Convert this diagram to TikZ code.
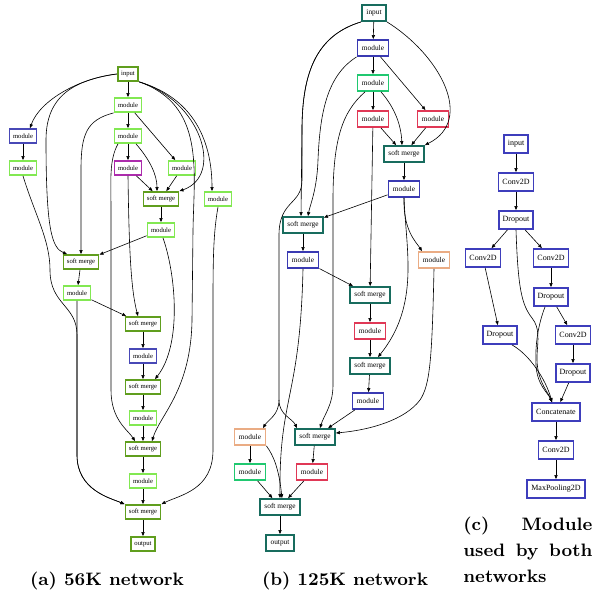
\documentclass[tikz,border=0pt]{standalone}
\usepackage{fontspec}
\usepackage{tikz}
\usetikzlibrary{arrows.meta}
\newfontfamily\gvfont{Liberation Serif}

\definecolor{agreen}{RGB}{96,158,30}
\definecolor{alime}{RGB}{130,232,82}
\definecolor{ablue}{RGB}{72,72,182}
\definecolor{apurple}{RGB}{172,44,172}
\definecolor{bteal}{RGB}{24,108,94}
\definecolor{bblue}{RGB}{58,58,178}
\definecolor{bgreen}{RGB}{32,200,112}
\definecolor{bred}{RGB}{224,56,86}
\definecolor{borange}{RGB}{234,172,132}
\definecolor{cblue}{RGB}{62,62,188}

\tikzset{
	gvbox/.style={fill=white, draw, shape=rectangle, line width=0.9pt, inner ysep=0pt},
	anode/.style={gvbox, font=\gvfont\fontsize{3.33}{4}\selectfont, minimum height=7pt, inner xsep=1.75pt},
	amerge/.style={anode, draw=agreen},
	amod/.style={anode, draw=alime},
	amodblue/.style={anode, draw=ablue},
	amodpurple/.style={anode, draw=apurple},
	bnode/.style={gvbox, font=\gvfont\fontsize{3.67}{4.4}\selectfont, minimum height=8pt, inner xsep=2.25pt},
	bmerge/.style={bnode, draw=bteal},
	bmodblue/.style={bnode, draw=bblue},
	bmodgreen/.style={bnode, draw=bgreen},
	bmodred/.style={bnode, draw=bred},
	bmodorange/.style={bnode, draw=borange},
	clayer/.style={gvbox, draw=cblue, font=\gvfont\fontsize{4}{5}\selectfont, minimum height=9pt, inner xsep=2pt},
	link/.style={fill=none, line width=0.3pt, -{Triangle[length=2pt, width=1.6pt]}},
	caption/.style={font=\fontsize{9}{13}\selectfont\bfseries, inner sep=0pt}
}

\begin{document}
\begin{tikzpicture}[x=0.5pt, y=-0.5pt]
	\useasboundingbox (0, 0) rectangle (594, 594);

	% (a) 56K network
	\node [amerge] (a1) at (128, 74) {input};
	\node [amod] (a2) at (128, 105) {module};
	\node [amodblue] (a3) at (23, 136) {module};
	\node [amod] (a4) at (128, 136) {module};
	\node [amod] (a5) at (23, 168) {module};
	\node [amodpurple] (a6) at (128, 168) {module};
	\node [amod] (a7) at (182, 168) {module};
	\node [amerge] (a8) at (161, 199) {soft merge};
	\node [amod] (a9) at (218, 199) {module};
	\node [amod] (a10) at (161, 230) {module};
	\node [amerge] (a11) at (81, 262) {soft merge};
	\node [amod] (a12) at (77, 293) {module};
	\node [amerge] (a13) at (143, 324) {soft merge};
	\node [amodblue] (a14) at (143, 356) {module};
	\node [amerge] (a15) at (143, 387) {soft merge};
	\node [amod] (a16) at (143, 418) {module};
	\node [amerge] (a17) at (143, 449) {soft merge};
	\node [amod] (a18) at (143, 481) {module};
	\node [amerge] (a19) at (143, 512) {soft merge};
	\node [amerge] (a20) at (143, 544) {output};

	\draw [link] (a1) to (a2);
	\draw [link] (a1.west) .. controls (80, 78) and (40, 100) .. ([xshift=3.5pt]a3.north);
	\draw [link] (a1.west) .. controls (75, 80) and (46, 95) .. (46, 140) .. controls (46, 230) and (52, 248) .. ([xshift=-7pt]a11.north);
	\draw [link] (a1.south east) .. controls (200, 100) and (225, 175) .. (a8.north east);
	\draw [link] (a1.south east) .. controls (200, 100) and (212, 150) .. ([xshift=-3pt]a9.north);
	\draw [link] (a1.south east) .. controls (205, 105) and (194, 170) .. (193, 230) -- (192, 320) .. controls (191, 390) and (160, 415) .. ([xshift=4.5pt]a17.north);
	\draw [link] (a2) to (a4);
	\draw [link] (a2) to (a7);
	\draw [link] (a2.south west) .. controls (86, 120) and (81, 135) .. (81, 170) -- (a11.north);
	\draw [link] (a3) to (a5);
	\draw [link] (a4) to (a6);
	\draw [link] ([xshift=4pt]a4.south) .. controls (150, 160) and (157, 175) .. ([xshift=-2pt]a8.north);
	\draw [link] ([xshift=-5pt]a4.south) .. controls (109, 160) and (111, 180) .. (111, 210) -- (111, 390) .. controls (111, 420) and (128, 430) .. ([xshift=-4pt]a17.north);
	\draw [link] (a6) to (a8);
	\draw [link] (a6.south) .. controls (129, 250) and (131, 290) .. ([xshift=-2.5pt]a13.north);
	\draw [link] (a7) to (a8);
	\draw [link] (a8) to (a10);
	\draw [link] (a10) to (a11);
	\draw [link] ([xshift=1pt]a10.south) .. controls (176, 275) and (182, 345) .. ([xshift=6pt]a15.north);
	\draw [link] (a9.south) .. controls (214, 230) and (213, 250) .. (213, 300) -- (213, 450) .. controls (213, 490) and (180, 495) .. (a19.north east);
	\draw [link] (a5.south) .. controls (35, 215) and (50, 240) .. (50, 270) .. controls (50, 305) and (77, 305) .. (77, 335) -- (77, 455) .. controls (77, 490) and (110, 498) .. (a19.north west);
	\draw [link] (a11) to (a12);
	\draw [link] (a12) to (a13);
	\draw [link] (a12.south) -- (77, 455) .. controls (77, 490) and (110, 498) .. (a19.north west);
	\draw [link] (a13) to (a14);
	\draw [link] (a14) to (a15);
	\draw [link] (a15) to (a16);
	\draw [link] (a16) to (a17);
	\draw [link] (a17) to (a18);
	\draw [link] (a18) to (a19);
	\draw [link] (a19) to (a20);

	% (b) 125K network
	\node [bmerge] (b1) at (374, 13) {input};
	\node [bmodblue] (b2) at (373, 48) {module};
	\node [bmodgreen] (b3) at (373, 83) {module};
	\node [bmodred] (b4) at (373, 119) {module};
	\node [bmodred] (b5) at (433, 119) {module};
	\node [bmerge] (b6) at (404, 154) {soft merge};
	\node [bmodblue] (b7) at (404, 189) {module};
	\node [bmerge] (b8) at (303, 225) {soft merge};
	\node [bmodblue] (b9) at (303, 260) {module};
	\node [bmodorange] (b10) at (434, 260) {module};
	\node [bmerge] (b11) at (370, 295) {soft merge};
	\node [bmodred] (b12) at (370, 331) {module};
	\node [bmerge] (b13) at (370, 366) {soft merge};
	\node [bmodblue] (b14) at (368, 401) {module};
	\node [bmodorange] (b15) at (250, 437) {module};
	\node [bmerge] (b16) at (315, 437) {soft merge};
	\node [bmodgreen] (b17) at (250, 472) {module};
	\node [bmodred] (b18) at (312, 472) {module};
	\node [bmerge] (b19) at (280, 507) {soft merge};
	\node [bmerge] (b20) at (280, 543) {output};

	\draw [link] (b1) to (b2);
	\draw [link] (b1.south west) .. controls (318, 35) and (302, 70) .. (302, 130) -- ([xshift=-1pt]b8.north);
	\draw [link] (b1.south west) .. controls (318, 35) and (302, 70) .. (302, 130) -- (302, 180) .. controls (302, 205) and (279, 200) .. (279, 235) -- (279, 400) .. controls (279, 415) and (268, 420) .. ([xshift=6.5pt]b15.north);
	\draw [link] (279, 400) .. controls (279, 415) and (292, 418) .. ([xshift=-9pt]b16.north);
	\draw [link] (b1.south east) .. controls (440, 55) and (475, 120) .. (b6.north east);
	\draw [link] (b2) to (b3);
	\draw [link] (b2) to (b5);
	\draw [link] (b2.south west) .. controls (328, 75) and (320, 110) .. (318, 160) .. controls (317, 190) and (310, 205) .. ([xshift=2.5pt]b8.north);
	\draw [link] (b3) to (b4);
	\draw [link] ([xshift=4pt]b3.south) .. controls (395, 108) and (401, 125) .. ([xshift=-1pt]b6.north);
	\draw [link] ([xshift=-4pt]b3.south) .. controls (342, 112) and (333, 140) .. (333, 200) -- (333, 385) .. controls (333, 405) and (324, 415) .. ([xshift=2.5pt]b16.north);
	\draw [link] (b4) to (b6);
	\draw [link] (b4) to (b11);
	\draw [link] (b5) to (b6);
	\draw [link] (b6) to (b7);
	\draw [link] (b7) to (b8);
	\draw [link] (b7.south) .. controls (403, 230) and (416, 242) .. ([xshift=-6pt]b10.north);
	\draw [link] (b7.south) .. controls (406, 250) and (420, 305) .. ([xshift=4pt]b13.north);
	\draw [link] (b8) to (b9);
	\draw [link] (b9) to (b11);
	\draw [link] (b9.south) .. controls (300, 400) and (279, 395) .. (b19.north);
	\draw [link] (b10.south) .. controls (432, 360) and (430, 385) .. (420, 400) .. controls (405, 420) and (370, 430) .. ([yshift=2pt]b16.east);
	\draw [link] (b11) to (b12);
	\draw [link] (b12) to (b13);
	\draw [link] (b13) to (b14);
	\draw [link] (b14) to (b16);
	\draw [link] (b15) to (b17);
	\draw [link] (b15.south east) .. controls (274, 456) and (279, 470) .. ([xshift=1pt]b19.north);
	\draw [link] (b16) to (b18);
	\draw [link] (b17) to (b19);
	\draw [link] (b18) to (b19);
	\draw [link] (b19) to (b20);

	% (c) module
	\node [clayer] (c1) at (516, 144) {input};
	\node [clayer] (c2) at (516, 182) {Conv2D};
	\node [clayer] (c3) at (516, 220) {Dropout};
	\node [clayer] (c4) at (483, 258) {Conv2D};
	\node [clayer] (c5) at (551, 258) {Conv2D};
	\node [clayer] (c6) at (551, 297) {Dropout};
	\node [clayer] (c7) at (500, 335) {Dropout};
	\node [clayer] (c8) at (573, 335) {Conv2D};
	\node [clayer] (c9) at (573, 373) {Dropout};
	\node [clayer] (c10) at (556, 412) {Concatenate};
	\node [clayer] (c11) at (556, 450) {Conv2D};
	\node [clayer] (c12) at (556, 489) {MaxPooling2D};

	\draw [link] (c1) to (c2);
	\draw [link] (c2) to (c3);
	\draw [link] (c3) to (c4);
	\draw [link] (c3) to (c5);
	\draw [link] (c3.south) .. controls (518, 290) and (522, 305) .. (532, 318) .. controls (540, 328) and (538, 340) .. (537, 355) .. controls (536, 380) and (548, 392) .. ([xshift=-2pt]c10.north);
	\draw [link] (c4) to (c7);
	\draw [link] (c5) to (c6);
	\draw [link] (c6) to (c8);
	\draw [link] ([xshift=-3pt]c6.south) .. controls (538, 325) and (535, 345) .. (536, 365) .. controls (537, 385) and (548, 393) .. ([xshift=-2pt]c10.north);
	\draw [link] ([xshift=6pt]c7.south) .. controls (530, 355) and (546, 380) .. ([xshift=-2pt]c10.north);
	\draw [link] (c8) to (c9);
	\draw [link] (c9) to (c10);
	\draw [link] (c10) to (c11);
	\draw [link] (c11) to (c12);

	% captions
	\node [caption, anchor=base] (capa) at (107, 585) {(a) 56K network};
	\node [caption, anchor=base] (capb) at (345, 585) {(b) 125K network};
	\node [caption, anchor=north west, text width=64.5pt, align=left] (capc) at (463, 517) {(c)\hfill Module\\ used\hfill by\hfill both\\ networks};
\end{tikzpicture}
\end{document}
